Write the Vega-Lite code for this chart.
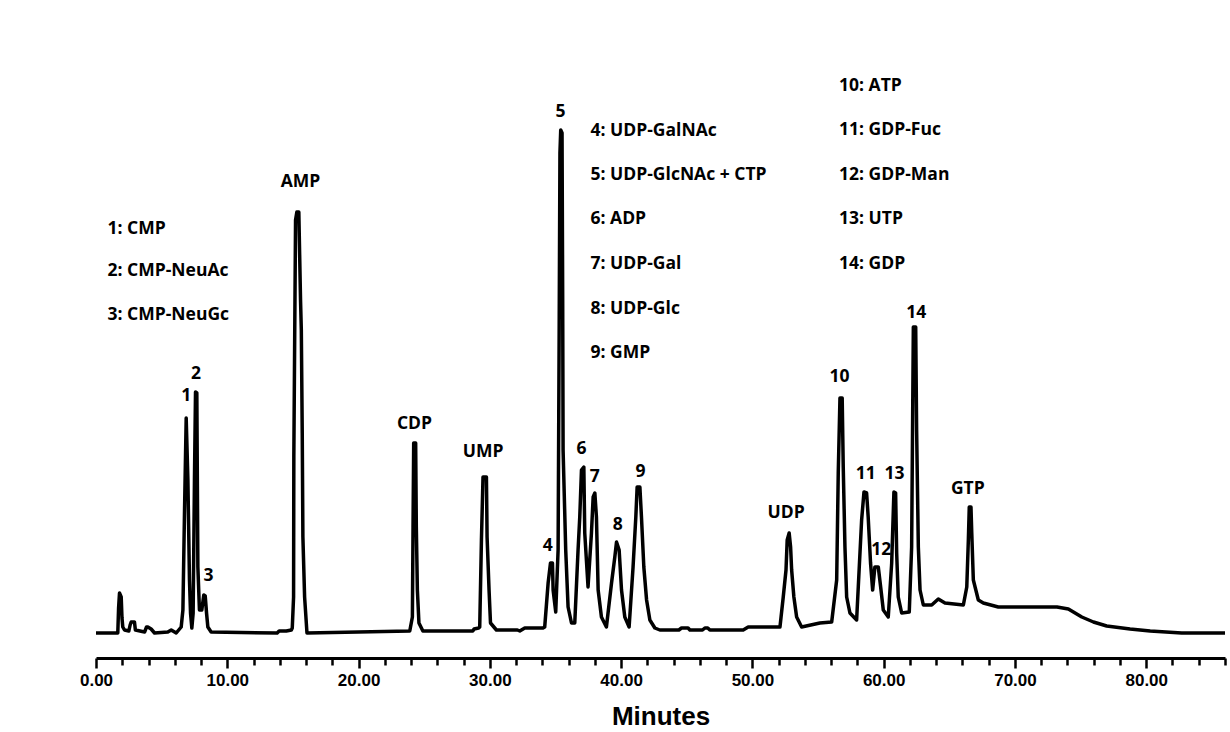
{
  "$schema": "https://vega.github.io/schema/vega-lite/v6.json",
  "width": 1129,
  "height": 648,
  "autosize": {"type": "none"},
  "padding": {"left": 96, "top": 10, "right": 5, "bottom": 74},
  "background": "white",
  "config": {"view": {"stroke": null}},
  "datasets": {
    "trace": [
      {"min": 0, "signal": 0}, {"min": 1.66, "signal": 0}, {"min": 1.72, "signal": 25}, {"min": 1.79, "signal": 40},
      {"min": 1.92, "signal": 36}, {"min": 1.98, "signal": 15}, {"min": 2.04, "signal": 6}, {"min": 2.17, "signal": 3},
      {"min": 2.5, "signal": 2}, {"min": 2.6, "signal": 8}, {"min": 2.68, "signal": 11}, {"min": 2.93, "signal": 11},
      {"min": 3.0, "signal": 3}, {"min": 3.7, "signal": 1}, {"min": 3.85, "signal": 6}, {"min": 3.95, "signal": 6},
      {"min": 4.2, "signal": 4}, {"min": 4.46, "signal": 0}, {"min": 5.47, "signal": 1}, {"min": 5.73, "signal": 3},
      {"min": 6.11, "signal": 0}, {"min": 6.49, "signal": 6}, {"min": 6.62, "signal": 23}, {"min": 6.74, "signal": 120},
      {"min": 6.87, "signal": 215}, {"min": 7.0, "signal": 153}, {"min": 7.12, "signal": 53}, {"min": 7.2, "signal": 20},
      {"min": 7.3, "signal": 5}, {"min": 7.4, "signal": 20}, {"min": 7.5, "signal": 153}, {"min": 7.58, "signal": 241},
      {"min": 7.68, "signal": 240}, {"min": 7.76, "signal": 66}, {"min": 7.88, "signal": 23}, {"min": 8.06, "signal": 23},
      {"min": 8.21, "signal": 38}, {"min": 8.32, "signal": 37}, {"min": 8.42, "signal": 20}, {"min": 8.52, "signal": 6},
      {"min": 8.77, "signal": 1}, {"min": 13.8, "signal": 0}, {"min": 13.95, "signal": 2}, {"min": 14.5, "signal": 2},
      {"min": 14.88, "signal": 3}, {"min": 14.95, "signal": 5}, {"min": 15.05, "signal": 36}, {"min": 15.07, "signal": 176},
      {"min": 15.2, "signal": 413}, {"min": 15.3, "signal": 421}, {"min": 15.45, "signal": 421}, {"min": 15.58, "signal": 333},
      {"min": 15.64, "signal": 303}, {"min": 15.71, "signal": 200}, {"min": 15.76, "signal": 96}, {"min": 15.89, "signal": 36},
      {"min": 16.07, "signal": 0}, {"min": 23.9, "signal": 2}, {"min": 24.1, "signal": 16}, {"min": 24.15, "signal": 106},
      {"min": 24.2, "signal": 190}, {"min": 24.35, "signal": 190}, {"min": 24.4, "signal": 106}, {"min": 24.48, "signal": 43},
      {"min": 24.6, "signal": 10}, {"min": 24.9, "signal": 2}, {"min": 28.7, "signal": 2}, {"min": 28.8, "signal": 4},
      {"min": 29.15, "signal": 5}, {"min": 29.23, "signal": 6}, {"min": 29.36, "signal": 93}, {"min": 29.48, "signal": 156},
      {"min": 29.74, "signal": 156}, {"min": 29.79, "signal": 96}, {"min": 29.94, "signal": 43}, {"min": 30.05, "signal": 10},
      {"min": 30.5, "signal": 3}, {"min": 32.1, "signal": 3}, {"min": 32.28, "signal": 2}, {"min": 32.66, "signal": 5},
      {"min": 34.05, "signal": 5}, {"min": 34.18, "signal": 6}, {"min": 34.44, "signal": 50}, {"min": 34.62, "signal": 70},
      {"min": 34.77, "signal": 70}, {"min": 34.82, "signal": 43}, {"min": 35.02, "signal": 21}, {"min": 35.2, "signal": 83},
      {"min": 35.28, "signal": 300}, {"min": 35.34, "signal": 480}, {"min": 35.4, "signal": 503}, {"min": 35.5, "signal": 500},
      {"min": 35.55, "signal": 330}, {"min": 35.58, "signal": 183}, {"min": 35.78, "signal": 83}, {"min": 35.96, "signal": 26},
      {"min": 36.22, "signal": 10}, {"min": 36.47, "signal": 10}, {"min": 36.72, "signal": 83}, {"min": 36.85, "signal": 116},
      {"min": 36.98, "signal": 163}, {"min": 37.16, "signal": 166}, {"min": 37.23, "signal": 100}, {"min": 37.48, "signal": 46},
      {"min": 37.74, "signal": 100}, {"min": 37.87, "signal": 136}, {"min": 38.0, "signal": 140}, {"min": 38.12, "signal": 116},
      {"min": 38.25, "signal": 43}, {"min": 38.5, "signal": 16}, {"min": 38.88, "signal": 6}, {"min": 39.27, "signal": 50},
      {"min": 39.52, "signal": 76}, {"min": 39.65, "signal": 91}, {"min": 39.85, "signal": 83}, {"min": 40.03, "signal": 43},
      {"min": 40.28, "signal": 16}, {"min": 40.61, "signal": 6}, {"min": 40.91, "signal": 66}, {"min": 41.12, "signal": 116},
      {"min": 41.22, "signal": 146}, {"min": 41.43, "signal": 146}, {"min": 41.55, "signal": 116}, {"min": 41.73, "signal": 66},
      {"min": 41.94, "signal": 33}, {"min": 42.19, "signal": 13}, {"min": 42.57, "signal": 5}, {"min": 42.95, "signal": 3},
      {"min": 44.4, "signal": 3}, {"min": 44.6, "signal": 5}, {"min": 45.1, "signal": 5}, {"min": 45.24, "signal": 3},
      {"min": 46.2, "signal": 3}, {"min": 46.38, "signal": 5}, {"min": 46.6, "signal": 5}, {"min": 46.76, "signal": 3},
      {"min": 49.3, "signal": 3}, {"min": 49.68, "signal": 6}, {"min": 52.1, "signal": 6}, {"min": 52.35, "signal": 36},
      {"min": 52.56, "signal": 63}, {"min": 52.65, "signal": 93}, {"min": 52.8, "signal": 100}, {"min": 52.91, "signal": 86},
      {"min": 52.99, "signal": 63}, {"min": 53.16, "signal": 36}, {"min": 53.37, "signal": 16}, {"min": 53.75, "signal": 6},
      {"min": 55.14, "signal": 10}, {"min": 56.04, "signal": 11}, {"min": 56.42, "signal": 53}, {"min": 56.54, "signal": 160},
      {"min": 56.67, "signal": 235}, {"min": 56.84, "signal": 235}, {"min": 56.92, "signal": 166}, {"min": 57.05, "signal": 86},
      {"min": 57.18, "signal": 36}, {"min": 57.43, "signal": 20}, {"min": 57.94, "signal": 13}, {"min": 58.32, "signal": 113},
      {"min": 58.5, "signal": 141}, {"min": 58.7, "signal": 140}, {"min": 58.82, "signal": 116}, {"min": 59.0, "signal": 70},
      {"min": 59.16, "signal": 43}, {"min": 59.33, "signal": 66}, {"min": 59.59, "signal": 66}, {"min": 59.77, "signal": 46},
      {"min": 59.97, "signal": 23}, {"min": 60.35, "signal": 16}, {"min": 60.61, "signal": 70}, {"min": 60.78, "signal": 141},
      {"min": 60.91, "signal": 140}, {"min": 60.99, "signal": 80}, {"min": 61.11, "signal": 36}, {"min": 61.37, "signal": 20},
      {"min": 61.95, "signal": 21}, {"min": 62.13, "signal": 86}, {"min": 62.26, "signal": 306}, {"min": 62.44, "signal": 306},
      {"min": 62.51, "signal": 203}, {"min": 62.64, "signal": 86}, {"min": 62.77, "signal": 43}, {"min": 63.02, "signal": 28},
      {"min": 63.66, "signal": 28}, {"min": 64.16, "signal": 34}, {"min": 64.67, "signal": 30}, {"min": 66.07, "signal": 28},
      {"min": 66.33, "signal": 46}, {"min": 66.45, "signal": 93}, {"min": 66.52, "signal": 126}, {"min": 66.65, "signal": 126},
      {"min": 66.71, "signal": 100}, {"min": 66.83, "signal": 53}, {"min": 67.21, "signal": 33}, {"min": 67.59, "signal": 30},
      {"min": 68.73, "signal": 26}, {"min": 73.2, "signal": 26}, {"min": 74.07, "signal": 24}, {"min": 75.09, "signal": 16},
      {"min": 75.98, "signal": 11}, {"min": 76.99, "signal": 7}, {"min": 78.77, "signal": 4}, {"min": 80.3, "signal": 2},
      {"min": 82.7, "signal": 0}, {"min": 86, "signal": 0}
    ],
    "peaks": [
      {"label": "1", "min": 6.87, "signal": 237},
      {"label": "2", "min": 7.62, "signal": 259},
      {"label": "3", "min": 8.57, "signal": 57},
      {"label": "AMP", "min": 15.58, "signal": 451},
      {"label": "CDP", "min": 24.26, "signal": 209},
      {"label": "UMP", "min": 29.48, "signal": 181},
      {"label": "4", "min": 34.42, "signal": 87},
      {"label": "5", "min": 35.38, "signal": 521},
      {"label": "6", "min": 36.98, "signal": 184},
      {"label": "7", "min": 37.99, "signal": 156},
      {"label": "8", "min": 39.75, "signal": 108},
      {"label": "9", "min": 41.48, "signal": 161},
      {"label": "UDP", "min": 52.57, "signal": 120},
      {"label": "10", "min": 56.63, "signal": 256},
      {"label": "11", "min": 58.64, "signal": 159},
      {"label": "12", "min": 59.81, "signal": 83},
      {"label": "13", "min": 60.82, "signal": 159},
      {"label": "14", "min": 62.48, "signal": 320},
      {"label": "GTP", "min": 66.41, "signal": 144}
    ],
    "key": [
      {"label": "1: CMP", "min": 0.88, "signal": 404},
      {"label": "2: CMP-NeuAc", "min": 0.88, "signal": 362},
      {"label": "3: CMP-NeuGc", "min": 0.88, "signal": 318},
      {"label": "4: UDP-GalNAc", "min": 37.67, "signal": 502},
      {"label": "5: UDP-GlcNAc + CTP", "min": 37.67, "signal": 458},
      {"label": "6: ADP", "min": 37.67, "signal": 414},
      {"label": "7: UDP-Gal", "min": 37.67, "signal": 369},
      {"label": "8: UDP-Glc", "min": 37.67, "signal": 324},
      {"label": "9: GMP", "min": 37.67, "signal": 280},
      {"label": "10: ATP", "min": 56.6, "signal": 547},
      {"label": "11: GDP-Fuc", "min": 56.6, "signal": 503},
      {"label": "12: GDP-Man", "min": 56.6, "signal": 458},
      {"label": "13: UTP", "min": 56.6, "signal": 414},
      {"label": "14: GDP", "min": 56.6, "signal": 369}
    ]
  },
  "encoding": {
    "x": {
      "field": "min",
      "type": "quantitative",
      "title": "Minutes",
      "scale": {"domain": [0, 86], "nice": false, "zero": false},
      "axis": {
        "values": [0, 2, 4, 6, 8, 10, 12, 14, 16, 18, 20, 22, 24, 26, 28, 30, 32, 34, 36, 38, 40, 42, 44, 46, 48, 50, 52, 54, 56, 58, 60, 62, 64, 66, 68, 70, 72, 74, 76, 78, 80, 82, 84, 86],
        "labelExpr": "datum.value % 10 === 0 ? format(datum.value, '.2f') : ''",
        "grid": false,
        "domainColor": "black",
        "domainWidth": 3,
        "tickColor": "black",
        "tickWidth": 2.5,
        "tickSize": {"condition": {"test": "datum.value % 10 === 0", "value": 10}, "value": 7},
        "labelFont": "Liberation Sans",
        "labelFontWeight": "bold",
        "labelFontSize": 17,
        "labelColor": "black",
        "labelPadding": 4,
        "labelOverlap": false,
        "labelFlush": false,
        "titleFont": "Liberation Sans",
        "titleFontWeight": "bold",
        "titleFontSize": 26,
        "titleColor": "black",
        "titlePadding": 15
      }
    },
    "y": {
      "field": "signal",
      "type": "quantitative",
      "scale": {"domain": [-25, 623], "nice": false, "zero": false},
      "axis": null
    }
  },
  "layer": [
    {
      "data": {"name": "trace"},
      "mark": {"type": "line", "color": "black", "strokeWidth": 3.5, "strokeJoin": "round", "clip": true}
    },
    {
      "data": {"name": "peaks"},
      "mark": {"type": "text", "font": "Open Sans", "fontWeight": "bold", "fontSize": 17.5, "align": "center", "baseline": "middle", "color": "black"},
      "encoding": {"text": {"field": "label"}}
    },
    {
      "data": {"name": "key"},
      "mark": {"type": "text", "font": "Open Sans", "fontWeight": "bold", "fontSize": 17.5, "align": "left", "baseline": "middle", "color": "black"},
      "encoding": {"text": {"field": "label"}}
    }
  ]
}
